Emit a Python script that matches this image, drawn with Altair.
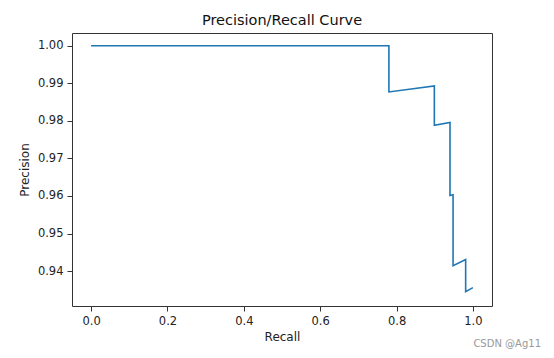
import altair as alt
import pandas as pd

recall = [0.0, 0.780, 0.780, 0.899, 0.899, 0.940, 0.940, 0.948, 0.948, 0.981, 0.981, 1.0]
precision = [1.0, 1.0, 0.9877, 0.9893, 0.9788, 0.9796, 0.9601, 0.9603, 0.9414, 0.9431, 0.9345, 0.9356]
x_ticks = [0.0, 0.2, 0.4, 0.6, 0.8, 1.0]
y_ticks = [0.94, 0.95, 0.96, 0.97, 0.98, 0.99, 1.00]

df = pd.DataFrame({"recall": recall, "precision": precision, "order": list(range(len(recall)))})

FONT = "DejaVu Sans"

line = alt.Chart(df).mark_line(color="#1f77b4", strokeWidth=1.6, clip=True).encode(
    x=alt.X("recall:Q", title="Recall",
            scale=alt.Scale(domain=[-0.05, 1.05], nice=False, zero=False),
            axis=alt.Axis(values=x_ticks, format=".1f", grid=False, domain=False,
                          tickColor="#333", tickSize=5, labelPadding=4,
                          labelFontSize=11.5, titleFontSize=12, titlePadding=5,
                          labelColor="#222", titleColor="#222",
                          labelFont=FONT, titleFont=FONT, titleFontWeight="normal")),
    y=alt.Y("precision:Q", title="Precision",
            scale=alt.Scale(domain=[0.9307, 1.0034], nice=False, zero=False),
            axis=alt.Axis(values=y_ticks, format=".2f", grid=False, domain=False,
                          tickColor="#333", tickSize=5, labelPadding=4,
                          labelFontSize=11.5, titleFontSize=12, titlePadding=6,
                          labelColor="#222", titleColor="#222",
                          labelFont=FONT, titleFont=FONT, titleFontWeight="normal")),
    order="order:Q",
)

wm = alt.Chart(pd.DataFrame({"t": ["CSDN @Ag11"]})).mark_text(
    align="right", baseline="alphabetic", fontSize=10, color="#999", font=FONT
).encode(x=alt.value(469), y=alt.value(314), text="t:N")

chart = alt.layer(line, wm).properties(
    width=420, height=273,
    title=alt.TitleParams("Precision/Recall Curve", font=FONT, fontSize=14.5,
                          fontWeight="normal", color="#111", offset=5),
    autosize=alt.AutoSizeParams(type="none"),
    padding={"left": 64, "top": 25, "right": 54, "bottom": 50},
).configure(background="white").configure_view(stroke="#333", strokeWidth=1)

chart.save("out.html", embed_options={"renderer": "svg", "actions": False})
